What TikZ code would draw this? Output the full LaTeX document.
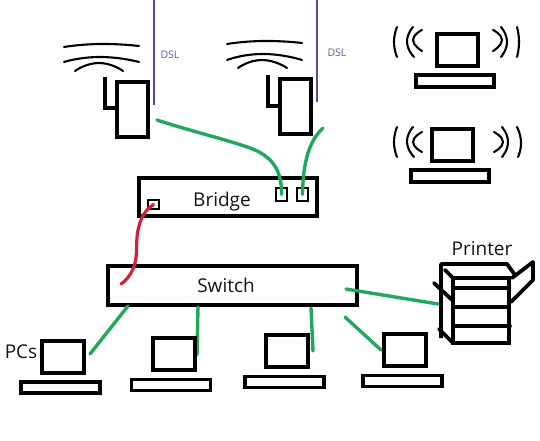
\documentclass[tikz,border=0pt]{standalone}
\usepackage{fontspec}
\setmainfont{Open Sans}
\definecolor{cablegreen}{HTML}{22A85A}
\definecolor{cablered}{HTML}{D0203C}
\definecolor{dslblue}{HTML}{4A4FA3}
\definecolor{dsltext}{HTML}{5A5F9A}
\tikzset{
  x=1pt,y=-1pt,
  box/.style={draw=black,line width=3.8pt,fill=white,inner sep=0pt,outer sep=0pt},
  port/.style={draw=black,line width=1.1pt,fill=white,inner sep=0pt,outer sep=0pt},
  lbl/.style={font=\fontsize{19}{22}\selectfont,inner sep=0pt,text=black!92,anchor=base},
  dsllbl/.style={font=\fontsize{10.5}{12}\selectfont,text=dsltext,inner sep=0pt,anchor=base},
  thick stroke/.style={line width=3.8pt,line cap=round,black},
  wave/.style={line width=2.1pt,black,line cap=round},
  cable/.style={line width=3.4pt,line cap=round,cablegreen},
  redcable/.style={line width=3.2pt,line cap=round,cablered},
  dsl/.style={line width=2.3pt,dslblue},
}
\begin{document}
\begin{tikzpicture}
\useasboundingbox (0,0) rectangle (540,441);
% coordinates for free ends
\coordinate (dslAtop) at (154,0); \coordinate (dslAend) at (154,105);
\coordinate (dslBtop) at (317,0); \coordinate (dslBend) at (317,102);
\coordinate (gA) at (157,120); \coordinate (gB) at (323,128);
\coordinate (rS) at (121,284);
\coordinate (pc1end) at (90,354); \coordinate (sw1) at (128,306);
\coordinate (pc2end) at (197,355); \coordinate (sw2) at (198,307);
\coordinate (pc3end) at (313,351); \coordinate (sw3) at (311,308);
\coordinate (pc4end) at (381,350); \coordinate (sw4) at (345,317);
\coordinate (sw5) at (346,289); \coordinate (prn) at (438,304);
% modems
\node[box,minimum width=31pt,minimum height=55pt] (modemA) at (132.5,109.5) {};
\node[box,minimum width=31pt,minimum height=55pt] (modemB) at (295.5,106.5) {};
\draw[thick stroke,line cap=butt] (105,77) -- (105,108) -- (118,108);
\draw[thick stroke,line cap=butt] (268,75) -- (268,106) -- (282,106);
% router waves
\draw[wave] plot[smooth,tension=1] coordinates {(64,47) (100,44) (139,46)};
\draw[wave] plot[smooth,tension=1] coordinates {(64,62) (100,57) (139,62)};
\draw[wave] plot[smooth,tension=1] coordinates {(75,71) (99,63) (123,71)};
\draw[wave] plot[smooth,tension=1] coordinates {(227,44) (263,41) (302,43)};
\draw[wave] plot[smooth,tension=1] coordinates {(227,60) (263,54) (302,60)};
\draw[wave] plot[smooth,tension=1] coordinates {(238,68) (262,60) (287,68)};
% DSL
\draw[dsl] (dslAtop) -- (dslAend);
\draw[dsl] (dslBtop) -- (dslBend);
\node[dsllbl] (dslA) at (170,59) {DSL};
\node[dsllbl] (dslB) at (337,57) {DSL};
% bridge and switch
\node[box,minimum width=178pt,minimum height=38pt] (bridge) at (228,197) {};
\node[lbl] (bridgeT) at (222,206) {Bridge};
\node[box,minimum width=249pt,minimum height=39pt] (switch) at (232.5,285.5) {};
\node[lbl] (switchT) at (226,292) {Switch};
\node[port,minimum width=11pt,minimum height=13pt] (p1) at (281.5,194.5) {};
\node[port,minimum width=11pt,minimum height=13pt] (p2) at (302.5,194.5) {};
\node[port,minimum width=11pt,minimum height=9pt] (p3) at (153.5,204.5) {};
% cables
\draw[cable] (gA) .. controls (190,131) and (225,139) .. (250,148) .. controls (272,156) and (282,170) .. (p1.center);
\draw[cable] (gB) .. controls (310,140) and (303,160) .. (p2.center);
\draw[redcable] (p3.center) .. controls (148,208) and (142,214) .. (139,226) .. controls (135,240) and (138,252) .. (135,263) .. controls (133,272) and (127,280) .. (rS);
\draw[cable] (pc1end) -- (sw1);
\draw[cable] (pc2end) -- (sw2);
\draw[cable] (pc3end) -- (sw3);
\draw[cable] (pc4end) -- (sw4);
\draw[cable] (sw5) -- (prn);
% PCs
\node[lbl] (pcs) at (21,358) {PCs};
\node[box,minimum width=42pt,minimum height=32pt] (pc1) at (63,357) {};
\node[box,minimum width=79pt,minimum height=11pt] (b1) at (60.5,387.5) {};
\node[box,minimum width=42pt,minimum height=32pt] (pc2) at (174,354) {};
\node[box,minimum width=79pt,minimum height=11pt] (b2) at (171,385) {};
\node[box,minimum width=42pt,minimum height=32pt] (pc3) at (287,351) {};
\node[box,minimum width=79pt,minimum height=11pt] (b3) at (284.5,382) {};
\node[box,minimum width=42pt,minimum height=32pt] (pc4) at (405,350) {};
\node[box,minimum width=79pt,minimum height=11pt] (b4) at (402.5,381) {};
% wireless laptops
\node[box,minimum width=41pt,minimum height=32pt] (wl1) at (457.5,50) {};
\node[box,minimum width=78pt,minimum height=12pt] (wb1) at (455,81) {};
\node[box,minimum width=41pt,minimum height=32pt] (wl2) at (452.5,145) {};
\node[box,minimum width=78pt,minimum height=12pt] (wb2) at (450,176) {};
\draw[wave] plot[smooth,tension=1] coordinates {(397,27) (394,42) (397,57)};
\draw[wave] plot[smooth,tension=1] coordinates {(413,27) (407,42) (414,57)};
\draw[wave] plot[smooth,tension=1] coordinates {(422,30) (413,40) (422,51)};
\draw[wave] plot[smooth,tension=1] coordinates {(493,30) (502,40) (493,51)};
\draw[wave] plot[smooth,tension=1] coordinates {(501,27) (507,42) (501,57)};
\draw[wave] plot[smooth,tension=1] coordinates {(517,27) (519,42) (517,57)};
\draw[wave] plot[smooth,tension=1] coordinates {(397,127) (394,142) (397,157)};
\draw[wave] plot[smooth,tension=1] coordinates {(413,127) (407,142) (414,157)};
\draw[wave] plot[smooth,tension=1] coordinates {(422,132) (413,142) (422,152)};
\draw[wave] plot[smooth,tension=1] coordinates {(494,132) (503,142) (494,152)};
\draw[wave] plot[smooth,tension=1] coordinates {(502,127) (508,142) (502,157)};
\draw[wave] plot[smooth,tension=1] coordinates {(517,127) (521,142) (518,157)};
% printer
\node[lbl] (printerT) at (482,255) {Printer};
\draw[thick stroke,line cap=butt,line join=round] (441,338) -- (441,264) -- (507,264) -- (515,275);
\draw[thick stroke] (445,270) -- (453,278);
\draw[thick stroke] (434,283) -- (452,300);
\draw[thick stroke] (439,329) -- (453,343);
\draw[thick stroke] (453,278) rectangle (509,343);
\draw[thick stroke] (453,288) -- (509,288);
\draw[thick stroke] (453,307) -- (509,307);
\draw[thick stroke] (453,326) -- (510,326);
\draw[thick stroke,line join=round] (512,278) -- (533,262) -- (533,280) -- (511,302);
\end{tikzpicture}
\end{document}
